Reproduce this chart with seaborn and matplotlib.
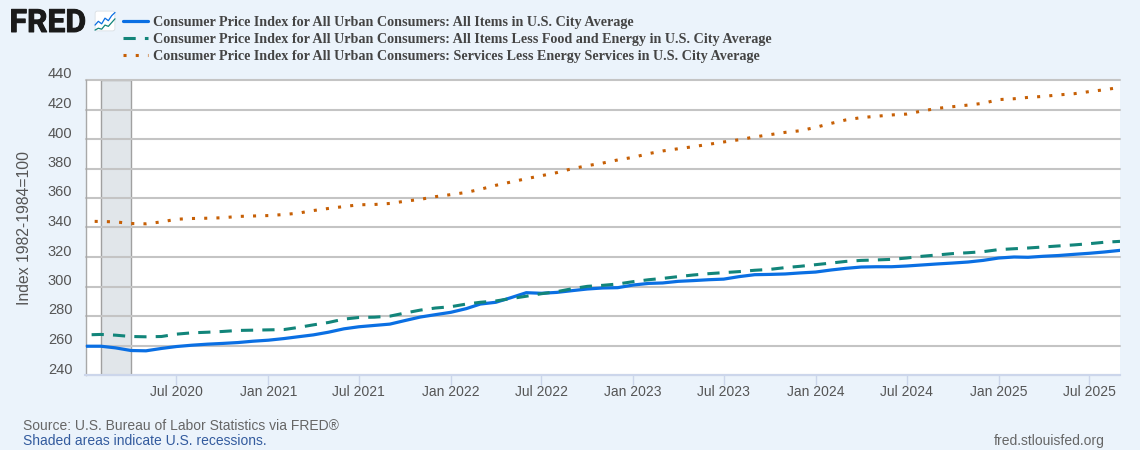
import pandas as pd
import matplotlib.pyplot as plt
import matplotlib.dates as mdates
import matplotlib.patheffects as pe
from matplotlib.patches import FancyBboxPatch
from matplotlib.transforms import ScaledTranslation
import seaborn as sns

# monthly values, Jan 2020 - Sep 2025
all_items = [259.5, 259.5, 258.4, 256.6, 256.4, 258.0, 259.3, 260.2, 260.9, 261.4, 262.0, 262.9,
             263.6, 264.7, 265.9, 267.2, 269.0, 271.3, 272.7, 273.6, 274.5, 276.9, 279.3, 280.9,
             282.5, 285.0, 288.1, 289.3, 292.4, 295.8, 295.4, 296.0, 297.2, 298.3, 299.0, 299.2,
             301.0, 302.1, 302.4, 303.5, 304.0, 304.6, 305.0, 306.7, 308.0, 308.2, 308.5, 309.2,
             309.8, 311.2, 312.3, 313.2, 313.4, 313.4, 313.9, 314.6, 315.3, 315.9, 316.6, 317.7,
             319.3, 320.0, 319.8, 320.5, 321.0, 321.8, 322.5, 323.4, 324.5]
core = [267.2, 267.5, 267.0, 266.1, 265.9, 266.1, 267.7, 268.6, 269.0, 269.5, 270.2, 270.4,
        270.6, 270.8, 272.2, 274.0, 275.6, 277.9, 279.0, 279.2, 279.9, 282.0, 284.0, 285.4,
        286.3, 288.1, 289.3, 290.2, 291.8, 293.4, 295.1, 296.5, 298.5, 300.1, 300.8, 301.7,
        303.3, 304.6, 305.5, 306.7, 307.8, 308.7, 309.4, 310.1, 311.0, 311.6, 312.8, 313.7,
        314.8, 315.9, 317.0, 317.7, 318.0, 318.4, 319.3, 320.5, 321.4, 322.3, 322.9, 323.6,
        325.0, 325.6, 326.1, 326.8, 327.5, 328.2, 329.0, 330.0, 330.6]
services = [344.2, 344.1, 343.8, 342.7, 342.5, 343.8, 345.6, 346.1, 346.3, 346.6, 347.5, 347.8,
            348.1, 348.8, 349.7, 351.5, 352.9, 354.2, 355.4, 355.6, 356.3, 357.8, 359.1, 360.9,
            362.3, 363.8, 365.9, 368.6, 370.8, 373.1, 375.1, 377.2, 379.9, 381.9, 383.7, 385.8,
            387.6, 390.1, 391.9, 393.4, 394.8, 396.4, 398.0, 399.5, 401.4, 402.9, 404.5, 405.6,
            407.9, 410.6, 412.9, 414.5, 415.4, 416.3, 416.9, 419.0, 420.8, 421.9, 423.0, 424.2,
            426.7, 427.3, 428.2, 428.9, 429.9, 430.7, 432.1, 433.4, 435.0]
dates = pd.date_range('2020-01-01', periods=len(all_items), freq='MS')

labels = ['Consumer Price Index for All Urban Consumers: All Items in U.S. City Average',
          'Consumer Price Index for All Urban Consumers: All Items Less Food and Energy in U.S. City Average',
          'Consumer Price Index for All Urban Consumers: Services Less Energy Services in U.S. City Average']
recession = ['2020-02-01', '2020-04-01']
y_ticks = [240, 260, 280, 300, 320, 340, 360, 380, 400, 420, 440]
x_ticks = pd.date_range('2020-07-01', '2025-07-01', freq='6MS')
icon_x = [0, 1, 2, 3, 4, 5, 6]
icon_blue = [2.2, 3.4, 2.6, 4.4, 3.6, 5.2, 6.2]
icon_green = [0.6, 1.2, 0.9, 2.2, 1.8, 3.0, 4.2]

BG = '#ebf3fb'
GRID = '#c4c4c4'
TXT = '#555555'

sns.set_style('white')
plt.rcParams['font.family'] = ['Liberation Sans', 'DejaVu Sans']

fig = plt.figure(figsize=(11.4, 4.5), dpi=100, facecolor=BG)
ax = fig.add_axes([85.5 / 1140, 1 - 375 / 450, (1120 - 85.5) / 1140, 295 / 450], facecolor='white')

ax.axvspan(pd.Timestamp(recession[0]), pd.Timestamp(recession[1]), facecolor='#e1e6ea',
           edgecolor='#a0a0a0', linewidth=1, zorder=0.5)

sns.lineplot(x=dates, y=all_items, ax=ax, color='#0a6fe3', linewidth=2.3, label=labels[0], zorder=3)
sns.lineplot(x=dates, y=core, ax=ax, color='#12857a', linewidth=2.2, linestyle=(5, (4, 3)), label=labels[1], zorder=3)
sns.lineplot(x=dates, y=services, ax=ax, color='#c65f05', linewidth=2.2, linestyle=(1, (1, 3)), label=labels[2], zorder=3)

ax.set_xlim(dates[0], dates[-1])
ax.set_ylim(240, 440)
ax.set_yticks(y_ticks)
ax.yaxis.grid(True, color=GRID, linewidth=1.5)
ax.xaxis.grid(False)
ax.set_axisbelow(True)
for line in ax.get_ygridlines():
    line.set_clip_on(False)
ax.set_xticks(x_ticks)
ax.xaxis.set_major_formatter(mdates.DateFormatter('%b %Y'))
ax.tick_params(axis='x', length=7, width=1, color='#ccd6eb', labelsize=10, labelcolor=TXT, pad=0.5, bottom=True)
ax.tick_params(axis='y', length=0, labelsize=10.5, labelcolor=TXT, pad=9.4)
for lab in ax.get_yticklabels():
    lab.set_transform(lab.get_transform() + ScaledTranslation(0, 7 / 100, fig.dpi_scale_trans))

for side in ['top', 'right']:
    ax.spines[side].set_visible(False)
ax.spines['left'].set_color('#a8a8a8')
ax.spines['left'].set_linewidth(1)
ax.spines['bottom'].set_color('#ccd6eb')
ax.spines['bottom'].set_linewidth(1.5)

ax.set_xlabel('')
ax.set_ylabel('')
fig.text(25 / 1140, 1 - 228 / 450, 'Index 1982-1984=100', rotation=90, fontsize=11.3, color=TXT,
         ha='center', va='center')

leg = ax.legend(loc='upper left', bbox_to_anchor=(119 / 1140, 1 - 12 / 450), bbox_transform=fig.transFigure,
                frameon=False, ncol=1, handlelength=1.77, handletextpad=0.35, labelspacing=0.27,
                borderpad=0.3, borderaxespad=0,
                prop={'family': 'Liberation Serif', 'weight': 'bold', 'size': 10.13})
for t in leg.get_texts():
    t.set_color('#444444')
# legend samples start on a dash, the plotted lines do not
leg.get_lines()[1].set_linestyle((0, (4, 3)))
leg.get_lines()[2].set_linestyle((0, (1, 3)))

# logo
logo = fig.text(9.5 / 1140, 1 - 32 / 450, 'FRED', fontsize=23, fontweight='bold', family='Roboto', color='#1a1a1a',
                ha='left', va='baseline')
logo.set_path_effects([pe.withStroke(linewidth=0.7, foreground='#1a1a1a')])
icon = fig.add_axes([94 / 1140, 1 - 32 / 450, 22 / 1140, 22 / 450])
icon.set_axis_off()
icon.add_patch(FancyBboxPatch((0.05, 0.05), 0.9, 0.9, boxstyle='round,pad=0,rounding_size=0.1', transform=icon.transAxes,
                              facecolor='white', edgecolor='#d5dbe0', linewidth=0.5))
sns.lineplot(x=icon_x, y=icon_blue, ax=icon, color='#0a6fe3', linewidth=0.9)
sns.lineplot(x=icon_x, y=icon_green, ax=icon, color='#12857a', linewidth=0.9)
icon.set_xlim(-0.3, 6.3)
icon.set_ylim(0, 7)

# footer
fig.text(23 / 1140, 1 - 425.5 / 450, 'Source: U.S. Bureau of Labor Statistics via FRED\u00ae', fontsize=10.03, color='#666666',
         ha='left', va='center')
fig.text(23 / 1140, 1 - 441 / 450, 'Shaded areas indicate U.S. recessions.', fontsize=10.03, color='#335b9e',
         ha='left', va='center')
fig.text(1105 / 1140, 1 - 441 / 450, 'fred.stlouisfed.org', fontsize=10, color='#666666', ha='right', va='center')

fig.savefig('out.png', dpi=100, facecolor=BG)
